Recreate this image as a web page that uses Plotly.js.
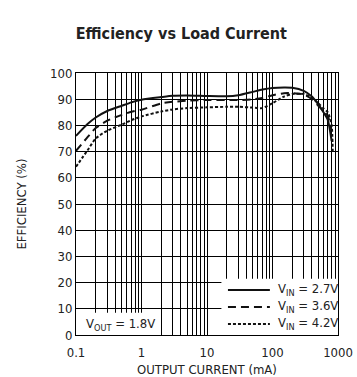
<!DOCTYPE html>
<html><head><meta charset="utf-8">
<script src="https://cdn.plot.ly/plotly-3.0.1.min.js"></script>
<style>html,body{margin:0;padding:0;background:#fff}#chart{width:357px;height:377px}</style>
</head><body><div id="chart"></div>
<script>
const current27 = [0.1,0.15,0.2,0.3,0.5,0.7,1,2,3,5,10,20,30,50,70,100,150,200,300,400,500,600,700,800];
const eff27 =     [76,80.5,83,85.5,87.5,88.8,89.8,90.8,91.3,91.4,91.2,91.1,91.5,92.8,93.7,94.3,94.5,94.4,93.2,91,88,85,82,74];
const current36 = [0.1,0.15,0.2,0.3,0.5,0.7,1,2,3,5,10,20,30,50,70,100,150,200,300,400,500,600,700,800];
const eff36 =     [70.3,75.5,79,81.8,84,85.2,86,88.4,89,89.4,89.7,89.7,89.7,89.9,90.5,91.5,92.3,92.3,91.8,90,87.5,85.5,83.5,78];
const current42 = [0.1,0.15,0.2,0.3,0.5,0.7,1,2,3,5,10,20,30,50,70,100,150,200,300,400,500,600,700,800,830];
const eff42 =     [64.2,70.5,75,78,80.3,82,83.4,85.3,86.1,86.6,86.9,87.1,87.1,86.8,86.6,88.5,91,92,92,90.5,88.5,86.5,85,80,70];
const seriesNames = ["V<sub>IN</sub> = 2.7V","V<sub>IN</sub> = 3.6V","V<sub>IN</sub> = 4.2V"];
const xTickVals = [];
for (const d of [0.1,1,10,100]) for (let k=1;k<10;k++) xTickVals.push(+(d*k).toPrecision(3));
xTickVals.push(1000);
const xTickText = xTickVals.map(v => [0.1,1,10,100,1000].includes(v) ? String(v) : "");
const yTickVals = [0,10,20,30,40,50,60,70,80,90,100];

const FONT = "'DejaVu Sans Condensed','Liberation Sans Narrow',sans-serif";
const lineStyles = [{color:'#111',width:2,dash:'solid'},{color:'#111',width:2,dash:'8px,5px'},{color:'#111',width:2,dash:'3px,2px'}];
const traces = [
  {x:current27,y:eff27},{x:current36,y:eff36},{x:current42,y:eff42}
].map((t,i)=>({x:t.x,y:t.y,type:'scatter',mode:'lines',name:seriesNames[i],line:Object.assign({shape:'spline',smoothing:0.6},lineStyles[i]),showlegend:false,hoverinfo:'skip'}));

const shapes = [
  {type:'rect',xref:'paper',yref:'paper',x0:0.555,x1:1,y0:0,y1:0.215,fillcolor:'#fff',line:{width:0},layer:'above'},
  {type:'rect',xref:'paper',yref:'paper',x0:0,x1:0.29,y0:0,y1:0.085,fillcolor:'#fff',line:{width:0},layer:'above'},
];
const annotations = [
  {xref:'paper',yref:'paper',x:0.03,y:0.04,xanchor:'left',yanchor:'middle',showarrow:false,text:'V<sub>OUT</sub> = 1.8V',font:{family:FONT,size:13,color:'#222'}}
];
const legY = [0.172,0.107,0.042];
legY.forEach((yy,i)=>{
  shapes.push({type:'line',xref:'paper',yref:'paper',x0:0.58,x1:0.74,y0:yy,y1:yy,line:lineStyles[i],layer:'above'});
  annotations.push({xref:'paper',yref:'paper',x:0.765,y:yy,xanchor:'left',yanchor:'middle',showarrow:false,text:seriesNames[i],font:{family:FONT,size:13,color:'#222'}});
});

const layout = {
  width:357,height:377,paper_bgcolor:'#fff',plot_bgcolor:'#fff',
  margin:{l:76,r:19,t:73,b:42},
  title:{text:'<b>Efficiency vs Load Current</b>',font:{family:FONT,size:16,color:'#222'},x:0.508,xref:'container',xanchor:'center',y:0.912,yref:'container',yanchor:'middle'},
  xaxis:{type:'log',range:[-1,3],tickvals:xTickVals,ticktext:xTickText,showgrid:true,gridcolor:'#000',gridwidth:1,
    showline:true,mirror:true,linecolor:'#000',linewidth:1,ticks:'',zeroline:false,ticklabelstandoff:5,
    tickfont:{family:FONT,size:13,color:'#222'},
    title:{text:'OUTPUT CURRENT (mA)',font:{family:FONT,size:13,color:'#222'},standoff:6}},
  yaxis:{range:[0,100],tickvals:yTickVals,showgrid:true,gridcolor:'#000',gridwidth:1,
    showline:true,mirror:true,linecolor:'#000',linewidth:1,ticks:'',zeroline:false,
    tickfont:{family:FONT,size:13,color:'#222'},
    title:{text:'EFFICIENCY (%)',font:{family:FONT,size:13,color:'#222'},standoff:20}},
  shapes:shapes,annotations:annotations
};
Plotly.newPlot('chart',traces,layout,{staticPlot:true,displayModeBar:false});
</script></body></html>
